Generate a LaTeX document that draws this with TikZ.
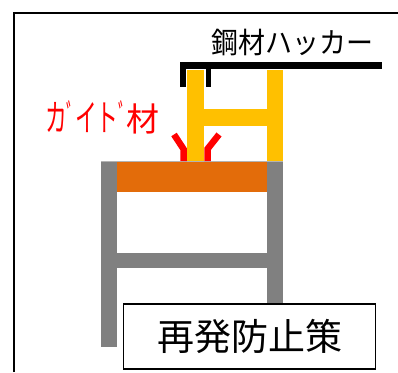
\documentclass[tikz,border=0pt]{standalone}
\usepackage{fontspec}
\newfontfamily\jpfont{Noto Sans CJK JP}
\definecolor{postgray}{HTML}{808080}
\definecolor{beamorange}{HTML}{E36C0A}
\definecolor{hyellow}{HTML}{FFC000}
\definecolor{guidered}{HTML}{FF0000}
% narrow (half-width style) kana at full height, and a narrow voicing mark
\newcommand{\narrowkana}[1]{\scalebox{0.66}[1.12]{#1}}
\newcommand{\narrowmark}{\scalebox{0.5}[1.1]{ﾞ}}
\tikzset{
  steelpart/.style={fill=#1, draw=none},
  guide/.style={draw=guidered, line width=6.5pt, line cap=butt, line join=miter},
  label/.style={inner sep=0pt, font=\jpfont},
}
\begin{document}
\begin{tikzpicture}[x=1pt,y=-1pt]
  \useasboundingbox (0,0) rectangle (398,372);

  % outer frame (open to the right and bottom)
  \draw[line width=2pt, line join=miter] (14,372) -- (14,12.5) -- (398,12.5);

  % gray support frame
  \fill[steelpart=postgray] (101,161) rectangle (116.7,346.7);
  \fill[steelpart=postgray] (267.3,161) rectangle (282.7,330);
  \fill[steelpart=postgray] (116.7,252.7) rectangle (267.3,267.7);
  \draw[postgray!60, line width=0.8pt] (101,161) -- (282.7,161);
  % orange beam
  \fill[steelpart=beamorange] (116.7,161.5) rectangle (267.3,191.7);

  % guide pieces
  \draw[guide] (183.5,161) -- (183.5,149) -- (174,134.5);
  \draw[guide] (207.5,161) -- (207.5,149) -- (219,134.5);

  % H-shaped steel
  \fill[steelpart=hyellow] (187.3,70) rectangle (204,161);
  \fill[steelpart=hyellow] (267.3,70) rectangle (282.7,161);
  \fill[steelpart=hyellow] (204,109) rectangle (267.3,126);

  % hacker clamp
  \fill[steelpart=black] (180,62.3) rectangle (381.7,69);
  \fill[steelpart=black] (180,62.3) rectangle (185.7,86.7);
  \fill[steelpart=black] (205.7,62.3) rectangle (211,86.7);

  % labels
  \node[label, anchor=center, xscale=0.93, font=\jpfont\fontsize{29}{29}\selectfont]
    (hacker) at (292.5,42) {鋼材ハッカー};
  \node[label, anchor=center, text=guidered, font=\jpfont\fontsize{33}{33}\selectfont]
    (guidelabel) at (102.5,117) {\narrowkana{カ}\narrowmark\narrowkana{イ}\narrowkana{ト}\narrowmark 材};

  % countermeasure box
  \node[draw, line width=1.4pt, fill=white, minimum width=252pt, minimum height=65pt,
        inner sep=0pt, font=\jpfont\fontsize{37}{37}\selectfont]
    (measure) at (249.7,336.5) {再発防止策};
\end{tikzpicture}
\end{document}
